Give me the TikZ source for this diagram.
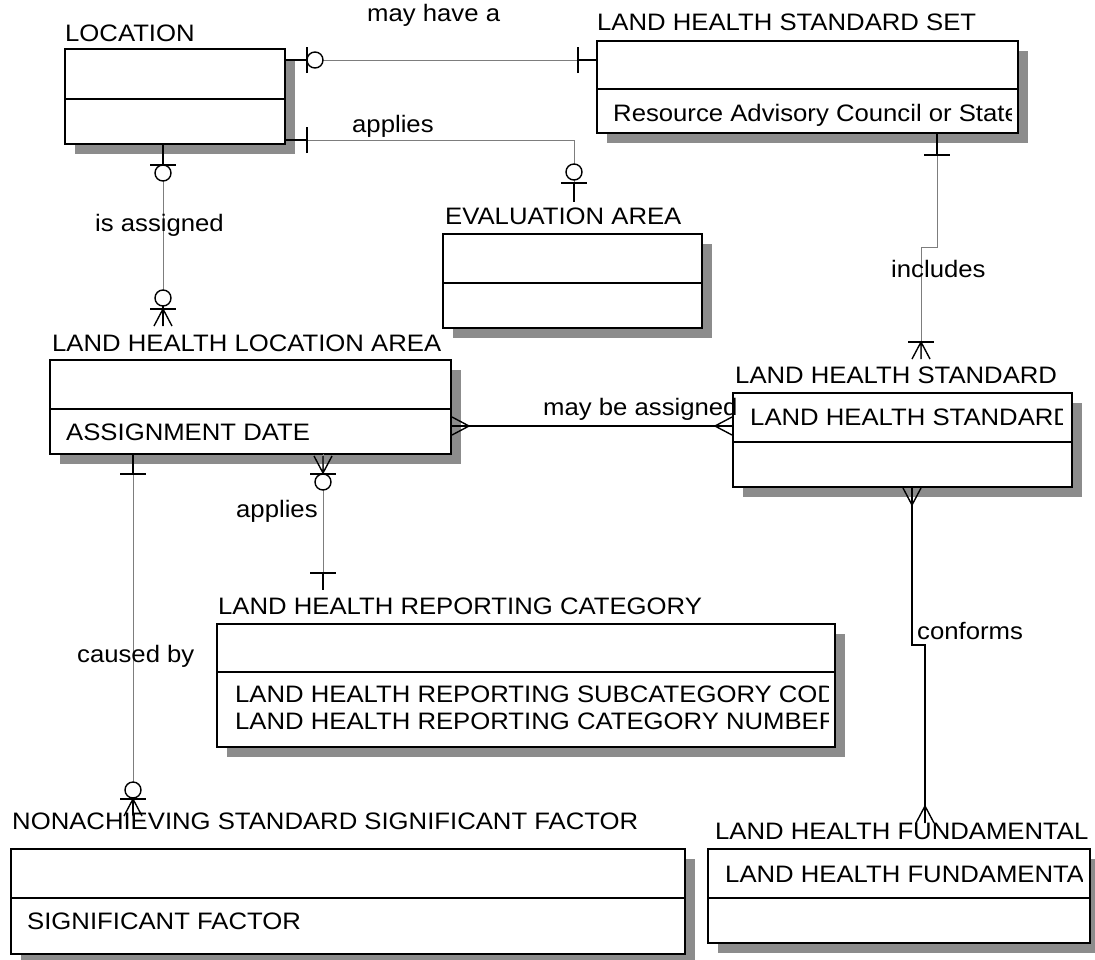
\documentclass[tikz,border=0pt]{standalone}
\usepackage{fontspec}
\newfontfamily\erfont[FakeStretch=1.08]{Liberation Sans}
\usetikzlibrary{calc,shadows}
\definecolor{shadowgray}{RGB}{140,140,140}
\definecolor{relgray}{RGB}{125,125,125}

\tikzset{
  every node/.style={font=\erfont\fontsize{23.8}{28.5}\selectfont},
  entity/.style={draw, fill=white, line width=1.5pt, anchor=north west,
    inner sep=0pt, outer sep=0pt,
    general shadow={fill=shadowgray, shadow xshift=10pt, shadow yshift=-10pt}},
  divider/.style={line width=1.5pt},
  title/.style={anchor=base west, inner sep=0pt},
  attr/.style={anchor=base west, inner sep=0pt},
  rlabel/.style={anchor=base west, inner sep=0pt},
  rel/.style={draw=relgray, line width=1pt},
  idrel/.style={draw=black, line width=1.8pt},
  sym/.style={draw=black, line width=1.4pt},
  % cardinality marks, drawn for a connector running vertically
  onebar/.pic={\draw[sym] (-13,0) -- (13,0);},
  zero/.pic={\draw[sym, fill=white] (0,0) circle[radius=8pt];},
  crow/.pic={\draw[sym] (-9,17) -- (0,0) -- (9,17) (0,0) -- (0,17);},
}

\begin{document}
\begin{tikzpicture}[x=1pt,y=-1pt]
\useasboundingbox (0,0) rectangle (1095,959);
\fill[white] (0,0) rectangle (1095,959);

% ---------- entities ----------
% LOCATION
\node[title] (loc-t) at (65,41) {LOCATION};
\node[entity, minimum width=220pt, minimum height=95pt] (loc) at (65,49) {};
\draw[divider] ([yshift=-50pt]loc.north west) -- ([yshift=-50pt]loc.north east);

% LAND HEALTH STANDARD SET
\node[title] (lhss-t) at (597,30) {LAND HEALTH STANDARD SET};
\node[entity, minimum width=421pt, minimum height=92pt] (lhss) at (597,41) {};
\draw[divider] ([yshift=-48pt]lhss.north west) -- ([yshift=-48pt]lhss.north east);
\begin{scope}
  \clip (lhss.north west) rectangle ([xshift=-7pt]lhss.south east);
  \node[attr] (lhss-a) at (613,121) {Resource Advisory Council or State};
\end{scope}

% EVALUATION AREA
\node[title] (ea-t) at (445,224) {EVALUATION AREA};
\node[entity, minimum width=259pt, minimum height=94pt] (ea) at (443,234) {};
\draw[divider] ([yshift=-49pt]ea.north west) -- ([yshift=-49pt]ea.north east);

% LAND HEALTH LOCATION AREA
\node[title] (lhla-t) at (52,351) {LAND HEALTH LOCATION AREA};
\node[entity, minimum width=401pt, minimum height=94pt] (lhla) at (50,360) {};
\draw[divider] ([yshift=-49pt]lhla.north west) -- ([yshift=-49pt]lhla.north east);
\node[attr] (lhla-a) at (66,440) {ASSIGNMENT DATE};

% LAND HEALTH STANDARD
\node[title] (lhs-t) at (735,383) {LAND HEALTH STANDARD};
\node[entity, minimum width=339pt, minimum height=94pt] (lhs) at (733,393) {};
\draw[divider] ([yshift=-49pt]lhs.north west) -- ([yshift=-49pt]lhs.north east);
\begin{scope}
  \clip (lhs.north west) rectangle ([xshift=-10pt]lhs.south east);
  \node[attr] (lhs-a) at (750,425) {LAND HEALTH STANDARD};
\end{scope}

% LAND HEALTH REPORTING CATEGORY
\node[title] (lhrc-t) at (218,614) {LAND HEALTH REPORTING CATEGORY};
\node[entity, minimum width=618pt, minimum height=123pt] (lhrc) at (217,624) {};
\draw[divider] ([yshift=-48pt]lhrc.north west) -- ([yshift=-48pt]lhrc.north east);
\begin{scope}
  \clip (lhrc.north west) rectangle ([xshift=-7pt]lhrc.south east);
  \node[attr] (lhrc-a1) at (235,702) {LAND HEALTH REPORTING SUBCATEGORY CODE};
  \node[attr] (lhrc-a2) at (235,729) {LAND HEALTH REPORTING CATEGORY NUMBER};
\end{scope}

% NONACHIEVING STANDARD SIGNIFICANT FACTOR
\node[title] (nssf-t) at (12,829) {NONACHIEVING STANDARD SIGNIFICANT FACTOR};
\node[entity, minimum width=674pt, minimum height=105pt] (nssf) at (11,849) {};
\draw[divider] ([yshift=-49pt]nssf.north west) -- ([yshift=-49pt]nssf.north east);
\node[attr] (nssf-a) at (27,929) {SIGNIFICANT FACTOR};

% LAND HEALTH FUNDAMENTAL
\node[title] (lhf-t) at (715,839) {LAND HEALTH FUNDAMENTAL};
\node[entity, minimum width=382pt, minimum height=94pt] (lhf) at (708,849) {};
\draw[divider] ([yshift=-49pt]lhf.north west) -- ([yshift=-49pt]lhf.north east);
\begin{scope}
  \clip (lhf.north west) rectangle ([xshift=-8pt]lhf.south east);
  \node[attr] (lhf-a) at (725,882) {LAND HEALTH FUNDAMENTAL};
\end{scope}

% ---------- connector end points ----------
\coordinate (a1) at ($(loc.north east)+(0,11)$);
\coordinate (a2) at ($(lhss.north west)+(0,19)$);
\coordinate (b1) at ($(loc.north east)+(0,91)$);
\coordinate (b2) at ($(ea.north west)+(131,-32)$);
\coordinate (c1) at ($(loc.south west)+(98,0)$);
\coordinate (c2) at ($(lhla.north west)+(113,-34)$);
\coordinate (d1) at ($(lhss.south west)+(340,0)$);
\coordinate (d2) at ($(lhs.north west)+(188,-34)$);
\coordinate (e1) at ($(lhla.north east)+(0,66)$);
\coordinate (e2) at ($(lhs.north west)+(0,33)$);
\coordinate (f1) at ($(lhs.south west)+(179,0)$);
\coordinate (f2) at ($(lhf.north west)+(217,-26)$);
\coordinate (g1) at ($(lhla.south west)+(273,0)$);
\coordinate (g2) at ($(lhrc.north west)+(106,-34)$);
\coordinate (h1) at ($(lhla.south west)+(83,0)$);
\coordinate (h2) at ($(nssf.north west)+(122,-34)$);

% ---------- relationships ----------
% LOCATION -- may have a -- LAND HEALTH STANDARD SET
\draw[rel] (a1) -- (a2);
\draw[sym] (a1) -- ++(22,0);
\pic[rotate=90] at ($(a1)+(22,0)$) {onebar};
\pic at ($(a1)+(30,0)$) {zero};
\pic[rotate=90] at ($(a2)+(-19,0)$) {onebar};
\draw[sym] ($(a2)+(-19,0)$) -- (a2);
\node[rlabel] (lab-a) at (367,21) {may have a};

% LOCATION -- applies -- EVALUATION AREA
\draw[rel] (b1) -| (b2);
\draw[sym] (b1) -- ++(22,0);
\pic[rotate=90] at ($(b1)+(22,0)$) {onebar};
\pic at ($(b2)+(0,-30)$) {zero};
\pic at ($(b2)+(0,-19)$) {onebar};
\draw[sym] ($(b2)+(0,-19)$) -- (b2);
\node[rlabel] (lab-b) at (352,132) {applies};

% LOCATION -- is assigned -- LAND HEALTH LOCATION AREA
\draw[rel] (c1) -- (c2);
\draw[sym] (c1) -- ++(0,21);
\pic at ($(c1)+(0,21)$) {onebar};
\pic at ($(c1)+(0,29)$) {zero};
\pic at ($(c2)+(0,-28)$) {zero};
\pic at ($(c2)+(0,-17)$) {onebar};
\draw[sym] ($(c2)+(0,-20)$) -- (c2);
\pic at ($(c2)+(0,-17)$) {crow};
\node[rlabel] (lab-c) at (95,231) {is assigned};

% LAND HEALTH STANDARD SET -- includes -- LAND HEALTH STANDARD
\draw[rel] (d1) -- ++(0,114) -| (d2);
\draw[sym] (d1) -- ++(0,22);
\pic at ($(d1)+(0,22)$) {onebar};
\pic at ($(d2)+(0,-17)$) {onebar};
\pic at ($(d2)+(0,-17)$) {crow};
\node[rlabel] (lab-d) at (891,277) {includes};

% LAND HEALTH LOCATION AREA -- may be assigned -- LAND HEALTH STANDARD
\draw[idrel] (e1) -- (e2);
\pic[rotate=-90] at ($(e1)+(18,0)$) {crow};
\pic[rotate=90] at ($(e2)+(-18,0)$) {crow};
\node[rlabel] (lab-e) at (543,415) {may be assigned};

% LAND HEALTH STANDARD -- conforms -- LAND HEALTH FUNDAMENTAL
\draw[idrel] (f1) -- ++(0,158) -| (f2);
\pic[rotate=180] at ($(f1)+(0,18)$) {crow};
\pic at ($(f2)+(0,-17)$) {crow};
\node[rlabel] (lab-f) at (917,639) {conforms};

% LAND HEALTH LOCATION AREA -- applies -- LAND HEALTH REPORTING CATEGORY
\draw[rel] (g1) -- (g2);
\pic[rotate=180] at ($(g1)+(0,19)$) {crow};
\pic at ($(g1)+(0,20)$) {onebar};
\pic at ($(g1)+(0,28)$) {zero};
\pic at ($(g2)+(0,-17)$) {onebar};
\draw[sym] ($(g2)+(0,-17)$) -- (g2);
\node[rlabel] (lab-g) at (236,517) {applies};

% LAND HEALTH LOCATION AREA -- caused by -- NONACHIEVING STANDARD SIGNIFICANT FACTOR
\draw[rel] (h1) -- (h2);
\draw[sym] (h1) -- ++(0,20);
\pic at ($(h1)+(0,20)$) {onebar};
\pic at ($(h2)+(0,-25)$) {zero};
\pic at ($(h2)+(0,-16)$) {onebar};
\draw[sym] ($(h2)+(0,-17)$) -- (h2);
\pic at ($(h2)+(0,-16)$) {crow};
\node[rlabel] (lab-h) at (77,662) {caused by};

\end{tikzpicture}
\end{document}
